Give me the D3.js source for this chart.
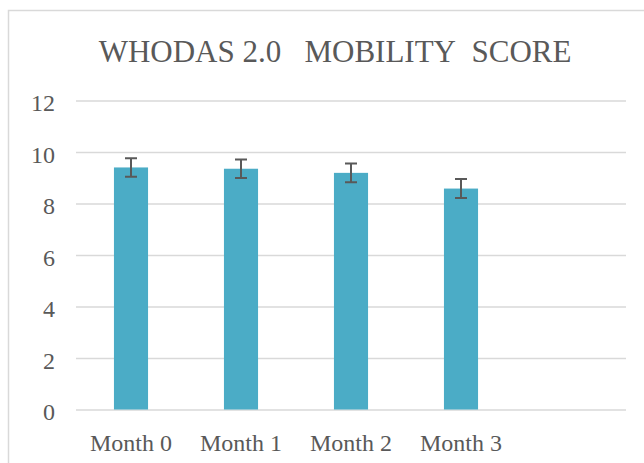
<!DOCTYPE html>
<html>
<head>
<meta charset="utf-8">
<script src="https://cdnjs.cloudflare.com/ajax/libs/d3/7.8.5/d3.min.js"></script>
<style>
  html, body { margin: 0; padding: 0; background: #fff; }
  svg { display: block; }
</style>
</head>
<body>
<div id="chart"></div>
<script>
// data
const categories = ['Month 0', 'Month 1', 'Month 2', 'Month 3', ''];
const meanScore = [9.40, 9.35, 9.19, 8.58];
const errorScore = [0.36, 0.36, 0.36, 0.37];
const yTicks = [0, 2, 4, 6, 8, 10, 12];
const titleText = 'WHODAS 2.0\u00a0\u00a0\u00a0MOBILITY\u00a0\u00a0SCORE';

const width = 644, height = 463;
const barColor = '#4bacc6';
const textColor = '#595959';
const gridColor = '#d9d9d9';
const serif = '"Liberation Serif", "Times New Roman", serif';

const svg = d3.select('#chart').append('svg')
  .attr('width', width).attr('height', height);

// chart area frame (cropped on the right and bottom)
svg.append('path')
  .attr('d', 'M8.5,463 V10.5 H644')
  .attr('fill', 'none')
  .attr('stroke', gridColor)
  .attr('stroke-width', 1.5);

const x = d3.scaleBand()
  .domain(categories)
  .range([76, 626])
  .paddingInner(0.69)
  .paddingOuter(0.345);

const y = d3.scaleLinear()
  .domain([0, 12])
  .range([409.5, 100.5]);

// title
svg.append('text')
  .attr('x', 335).attr('y', 62)
  .attr('text-anchor', 'middle')
  .attr('font-family', serif)
  .attr('font-size', 31)
  .attr('fill', textColor)
  .text(titleText);

// gridlines + y labels
const yAxis = d3.axisLeft(y).tickValues(yTicks).tickSize(-(626 - 76)).tickPadding(21);
const gy = svg.append('g').attr('transform', 'translate(76,0)').call(yAxis);
gy.select('.domain').remove();
gy.selectAll('.tick line').attr('stroke', gridColor).attr('stroke-width', 1.5);
gy.selectAll('.tick text')
  .attr('fill', textColor)
  .attr('font-family', serif)
  .attr('font-size', 24)
  .attr('dy', '0.42em');

// x labels
const xAxis = d3.axisBottom(x).tickSize(0);
const gx = svg.append('g').attr('transform', `translate(0,${y(0)})`).call(xAxis);
gx.select('.domain').remove();
gx.selectAll('.tick text')
  .attr('fill', textColor)
  .attr('font-family', serif)
  .attr('font-size', 24)
  .attr('y', 41.5)
  .attr('dy', 0);

const rows = meanScore.map((v, i) => ({ cat: categories[i], v, e: errorScore[i] }));

// bars
svg.append('g').selectAll('rect')
  .data(rows)
  .enter().append('rect')
  .attr('x', d => x(d.cat))
  .attr('y', d => y(d.v))
  .attr('width', x.bandwidth())
  .attr('height', d => y(0) - y(d.v))
  .attr('fill', barColor);

// error bars
const cap = 6;
const eb = svg.append('g').attr('stroke', '#595959').attr('stroke-width', 2).attr('fill', 'none');
eb.selectAll('path')
  .data(rows)
  .enter().append('path')
  .attr('d', d => {
    const cx = x(d.cat) + x.bandwidth() / 2;
    const t = y(d.v + d.e), b = y(d.v - d.e);
    return `M${cx - cap},${t}H${cx + cap}M${cx},${t}V${b}M${cx - cap},${b}H${cx + cap}`;
  });
</script>
</body>
</html>
